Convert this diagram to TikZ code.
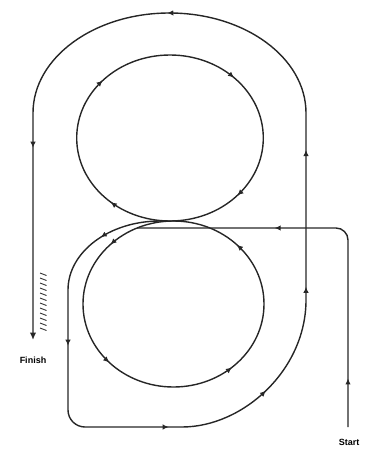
\documentclass[tikz,border=0pt]{standalone}
\usepackage{fontspec}
\setsansfont{Liberation Sans}
\usetikzlibrary{arrows.meta, decorations.markings}

\begin{document}
\begin{tikzpicture}[
  x=1pt, y=-1pt,
  >={Latex[length=7.5pt, width=6.5pt]},
  midtip/.tip={Latex[length=6pt, width=5.5pt]},
  every node/.style={font=\sffamily\bfseries\fontsize{9}{10}\selectfont, inner sep=0pt},
  track/.style={line width=1.4pt, draw=black!85},
  hatch/.style={line width=0.9pt, draw=black!80},
  tip/.style={postaction={decorate, decoration={markings, mark=at position #1 with {\arrow{midtip}}}}},
]
  \useasboundingbox (0,0) rectangle (367,450);

  % Labels and path ends
  \node (finish) at (33,360) {Finish};
  \node (start)  at (349,442) {Start};
  \coordinate (entry)    at (348,427);
  \coordinate (merge)    at (137,228);
  \coordinate (stopline) at (33,340);

  % Entry lane from the start into the lower loop
  \draw[track, rounded corners=12pt, tip=0.12, tip=0.66] (entry) -- (348,228) -- (merge);

  % Lower loop (counter-clockwise) and upper loop (clockwise)
  \draw[track, tip=0.126, tip=0.371, tip=0.615, tip=0.873]
    (173.5,221) arc[start angle=270, end angle=-90, x radius=90.5, y radius=83];
  \draw[track, tip=0.114, tip=0.367, tip=0.625, tip=0.867]
    (170,221) arc[start angle=90, end angle=450, x radius=93.3, y radius=83];

  % Exit lane round the outside to the finish
  \draw[track, ->, tip=0.046, tip=0.135, tip=0.264, tip=0.343, tip=0.428, tip=0.529, tip=0.696, tip=0.858]
    (160,221) arc[start angle=270, end angle=180, x radius=92, y radius=69]
    [rounded corners=17pt] -- (68,427) -- (165,427) [sharp corners]
    arc[start angle=90, end angle=0, x radius=141, y radius=127]
    -- (306,113)
    arc[start angle=0, end angle=-180, x radius=136.5, y radius=100]
    -- (stopline);

  % Stop line marks beside the finish lane
  \foreach \i in {0,...,11}
    \draw[hatch] (40,273+5*\i) -- ++(6.5,2.5);
\end{tikzpicture}
\end{document}
